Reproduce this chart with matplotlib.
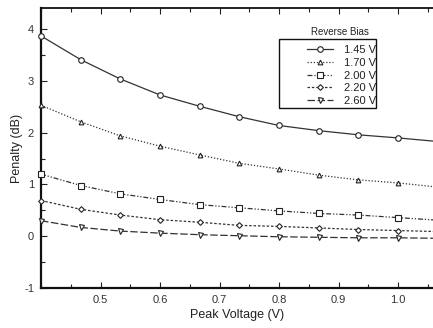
import matplotlib
matplotlib.use("Agg")
import matplotlib.pyplot as plt
from matplotlib.ticker import MultipleLocator
from matplotlib.patches import Rectangle

plt.rcParams['font.family'] = ['Liberation Sans', 'DejaVu Sans']

peak_voltage = [0.400, 0.467, 0.533, 0.600, 0.667, 0.733, 0.800, 0.867, 0.933, 1.000, 1.067]
bias_labels = ["1.45 V", "1.70 V", "2.00 V", "2.20 V", "2.60 V"]
pen_145 = [3.87, 3.41, 3.04, 2.73, 2.51, 2.31, 2.14, 2.04, 1.96, 1.90, 1.83]
pen_170 = [2.53, 2.21, 1.94, 1.74, 1.57, 1.41, 1.30, 1.18, 1.09, 1.03, 0.95]
pen_200 = [1.20, 0.98, 0.82, 0.71, 0.61, 0.55, 0.49, 0.44, 0.41, 0.36, 0.31]
pen_220 = [0.69, 0.52, 0.41, 0.32, 0.27, 0.21, 0.19, 0.16, 0.13, 0.11, 0.09]
pen_260 = [0.30, 0.17, 0.10, 0.06, 0.03, 0.01, -0.01, -0.02, -0.03, -0.03, -0.04]
series = [pen_145, pen_170, pen_200, pen_220, pen_260]

styles = [
    dict(ls='-', marker='o', ms=4.0),
    dict(ls=(0, (1, 1.5)), marker='^', ms=3.4),
    dict(ls=(0, (4, 1.5, 1, 1.5, 1, 1.5)), marker='s', ms=4.0),
    dict(ls=(0, (2, 1.5)), marker='D', ms=2.9),
    dict(ls=(0, (6, 2)), marker='v', ms=3.6),
]
lcol = '#333333'

fig = plt.figure(figsize=(4.33, 3.28), dpi=100)
ax = fig.add_axes([41/433, 1-288/328, 1-41/433, 280/328])

handles = []
for vals, st, lab in zip(series, styles, bias_labels):
    h, = ax.plot(peak_voltage, vals, color=lcol, lw=0.9, linestyle=st['ls'],
                 marker=st['marker'], ms=st['ms'], mfc='white', mec='#222222',
                 mew=0.8, markevery=list(range(10)), clip_on=False, label=lab,
                 zorder=3)
    handles.append(h)

ax.set_xlim(0.4, 1.0588)
ax.set_ylim(-1, 4.41)
ax.xaxis.set_minor_locator(MultipleLocator(0.05))
ax.yaxis.set_minor_locator(MultipleLocator(0.5))
ax.set_xticks([0.5, 0.6, 0.7, 0.8, 0.9, 1.0])
ax.set_xticklabels(["0.5", "0.6", "0.7", "0.8", "0.9", "1.0"])
ax.set_yticks([-1, 0, 1, 2, 3, 4])
ax.set_yticklabels(["-1", "0", "1", "2", "3", "4"])

ax.tick_params(which='both', direction='in', top=True, right=False,
               labelsize=8, labelcolor='#333333', color='#222222')
ax.tick_params(which='major', length=4, width=0.8, pad=5)
ax.tick_params(which='minor', length=3, width=0.8)
ax.spines['right'].set_visible(False)
ax.spines['left'].set_linewidth(1.6)
ax.spines['bottom'].set_linewidth(1.6)
ax.spines['top'].set_linewidth(1.3)
for s in ['left', 'bottom', 'top']:
    ax.spines[s].set_color('#111111')

ax.set_xlabel("Peak Voltage (V)", fontsize=9, color='#222222', labelpad=3)
ax.set_ylabel("Penalty (dB)", fontsize=9, color='#222222', labelpad=1)

# legend
fig.text(340/433, 1-32/328, "Reverse Bias", fontsize=7, ha='center', va='center', color='#222222')
fig.patches.append(Rectangle((279/433, 1-108/328), 97/433, 69/328, transform=fig.transFigure,
                             fill=True, facecolor='white', edgecolor='#111111', lw=1.0, zorder=5))
leg = fig.legend(handles=handles, loc='upper left', bbox_to_anchor=(307/433, 1-45/328),
                 frameon=False, fontsize=8, handlelength=2.3, handletextpad=1.0,
                 labelspacing=0.25, borderpad=0, borderaxespad=0, labelcolor='#222222')
leg.set_zorder(6)

fig.savefig("out.png", dpi=100)
